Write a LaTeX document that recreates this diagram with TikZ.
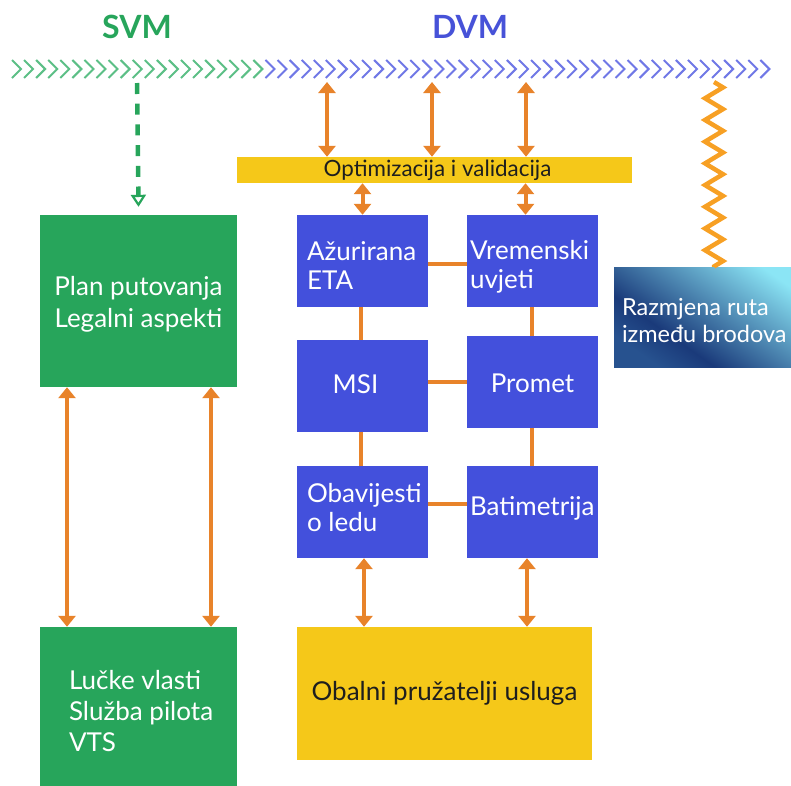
\documentclass[tikz,border=0pt]{standalone}
\usepackage{fontspec}
\setmainfont{Lato}
\usetikzlibrary{arrows.meta,decorations.pathmorphing}
\definecolor{svmgreen}{HTML}{27A55B}
\definecolor{dvmblue}{HTML}{4350DC}
\definecolor{titleblue}{HTML}{4752D8}
\definecolor{boxyellow}{HTML}{F5C819}
\definecolor{arrorange}{HTML}{E8832A}
\definecolor{zigorange}{HTML}{F7A024}
\definecolor{chevgreen}{HTML}{5CBF86}
\definecolor{chevblue}{HTML}{7078E6}
\definecolor{gradA}{HTML}{27528F}
\definecolor{gradN}{HTML}{1A3A7A}
\definecolor{gradC}{HTML}{8BE5F5}
\definecolor{darktext}{HTML}{1E1E1E}
\pgfdeclareverticalshading{gradbox}{100bp}{color(0bp)=(gradA); color(25bp)=(gradA); color(37bp)=(gradN); color(78bp)=(gradC); color(100bp)=(gradC)}
\begin{document}
\begin{tikzpicture}[x=1pt,y=-1pt,
  bigtxt/.style={font=\fontsize{26}{31}\selectfont},
  greenbox/.style={rectangle, fill=svmgreen, inner sep=0pt, text=white, bigtxt},
  bluebox/.style={rectangle, fill=dvmblue, inner sep=0pt, text=white, bigtxt, minimum width=131pt, minimum height=92pt},
  lbl/.style={inner sep=0pt, align=left, text=white, font=\fontsize{26}{29}\selectfont},
  conn/.style={arrorange, line width=4pt},
  biarr/.style={arrorange, line width=4pt, {Triangle[width=17pt,length=11pt]}-{Triangle[width=17pt,length=11pt]}},
  title/.style={font=\fontsize{32}{36}\selectfont\bfseries, inner sep=0pt}]
\useasboundingbox (0,0) rectangle (791,785);

% titles
\node[title, text=svmgreen] (svm) at (137,27) {SVM};
\node[title, text=titleblue] (dvm) at (470,27) {DVM};

% chevron ribbon
\foreach \i in {0,...,62}{
  \pgfmathsetmacro{\cx}{12+12.07*\i}
  \ifnum\i<21
    \draw[chevgreen, line width=2pt] (\cx,60) -- (\cx+9,69) -- (\cx,78);
  \else
    \draw[chevblue, line width=2pt] (\cx,60) -- (\cx+9,69) -- (\cx,78);
  \fi
}
\coordinate (s1) at (137,83);
\coordinate (t1) at (327,82);
\coordinate (t2) at (432,82);
\coordinate (t3) at (526,82);
\coordinate (z1) at (714,82);

% yellow bar
\node[rectangle, fill=boxyellow, inner sep=0pt, minimum width=395pt, minimum height=26pt] (opt) at (434.5,170) {};
\node[inner sep=0pt, text=darktext, font=\fontsize{22.4}{24}\selectfont] (optt) at ([xshift=3pt]opt.center) {Optimizacija i validacija};

% green boxes
\node[greenbox, minimum width=197pt, minimum height=172pt] (plan) at (138.5,301) {};
\node[lbl, align=center, font=\fontsize{26}{32}\selectfont] (plant) at ([yshift=-3pt]plan.center) {Plan putovanja\\Legalni aspekti};
\node[greenbox, minimum width=197pt, minimum height=168pt] (luka) at (138.5,711) {};
\node[lbl, anchor=west, font=\fontsize{26}{31}\selectfont] (lukat) at ([xshift=29pt]luka.west) {Lučke vlasti\\Služba pilota\\VTS};

% blue boxes
\node[bluebox] (eta) at (362.5,261) {};
\node[lbl, anchor=west] (etat) at ([xshift=10pt,yshift=-5pt]eta.west) {Ažurirana\\ETA};
\node[bluebox] (vrem) at (532.5,261) {};
\node[lbl, anchor=west] (vremt) at ([xshift=3pt,yshift=-6pt]vrem.west) {Vremenski\\uvjeti};
\node[bluebox] (msi) at (362.5,386) {};
\node[lbl, anchor=center] (msit) at ([xshift=-7pt,yshift=2pt]msi.center) {MSI};
\node[bluebox] (promet) at (532.5,382) {};
\node[lbl, anchor=center] (promett) at ([yshift=-1pt]promet.center) {Promet};
\node[bluebox] (obav) at (362.5,512) {};
\node[lbl, anchor=west] (obavt) at ([xshift=10pt,yshift=4pt]obav.west) {Obavijesti\\o ledu};
\node[bluebox] (bat) at (532.5,512) {};
\node[lbl, anchor=west] (batt) at ([xshift=3pt,yshift=4pt]bat.west) {Batimetrija};

% coastal providers
\node[rectangle, fill=boxyellow, inner sep=0pt, minimum width=295pt, minimum height=133pt,
      text=darktext, bigtxt] (obal) at (444.5,693.5) {Obalni pružatelji usluga};

% gradient box
\node[rectangle, inner sep=0pt, minimum width=180pt, minimum height=100pt, shading=gradbox, shading angle=-35] (grad) at (704,317) {};
\node[lbl, anchor=west, font=\fontsize{23.5}{27}\selectfont] (gradt) at ([xshift=8pt,yshift=-4pt]grad.west) {Razmjena ruta\\između brodova};

% connectors between blue boxes
\draw[conn] ([yshift=-3pt]eta.east) -- ([yshift=-3pt]vrem.west);
\draw[conn] (promet.west -| msi.east) -- (promet.west);
\draw[conn] ([yshift=8pt]obav.east) -- ([yshift=8pt]bat.west);
\draw[conn] ([xshift=-2pt]eta.south) -- ([xshift=-2pt]eta.south |- msi.north);
\draw[conn] ([xshift=-2pt]msi.south) -- ([xshift=-2pt]msi.south |- obav.north);
\draw[conn] ([xshift=-1pt]vrem.south) -- ([xshift=-1pt]vrem.south |- promet.north);
\draw[conn] ([xshift=-1pt]promet.south) -- ([xshift=-1pt]promet.south |- bat.north);

% arrows to ribbon
\draw[biarr] (t1) -- (t1 |- opt.north);
\draw[biarr] (t2) -- (t2 |- opt.north);
\draw[biarr] (t3) -- (t3 |- opt.north);

% arrows bar to boxes
\draw[biarr] (opt.south -| eta.north) -- (eta.north);
\draw[biarr] ([xshift=-7pt]opt.south -| vrem.north) -- ([xshift=-7pt]vrem.north);

% arrows boxes to coastal
\draw[biarr] ([xshift=1.5pt]obav.south) -- ([xshift=1.5pt]obav.south |- obal.north);
\draw[biarr] ([xshift=-5.5pt]bat.south) -- ([xshift=-5.5pt]bat.south |- obal.north);

% arrows between green boxes
\draw[biarr] ([xshift=-71.5pt]plan.south) -- ([xshift=-71.5pt]plan.south |- luka.north);
\draw[biarr] ([xshift=72.5pt]plan.south) -- ([xshift=72.5pt]plan.south |- luka.north);

% SVM dashed arrow
\draw[svmgreen, line width=4.5pt, dash pattern=on 11pt off 9.7pt,
      -{Triangle[open, width=15pt, length=12pt, line width=2.2pt]}] (s1) -- ([yshift=8pt]plan.north);

% zigzag
\draw[zigorange, line width=4.5pt, line join=miter, decorate,
      decoration={zigzag, segment length=21.7pt, amplitude=9pt}] (z1) -- (z1 |- grad.north);
\end{tikzpicture}
\end{document}
